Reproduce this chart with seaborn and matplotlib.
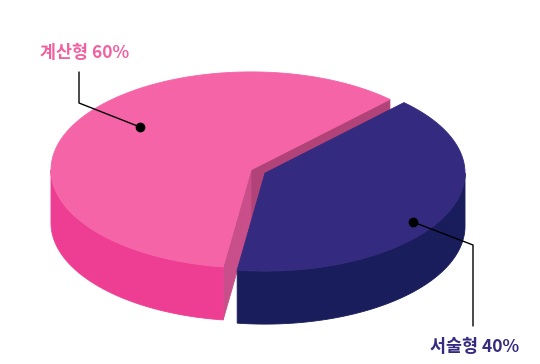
import numpy as np
import matplotlib
matplotlib.use("Agg")
import matplotlib.pyplot as plt
import seaborn as sns
from matplotlib.patches import Polygon

# ---- data ----
categories = ["계산형", "서술형"]
values = [60, 40]
labels = ["계산형 60%", "서술형 40%"]
top_colors = ["#F664A8", "#342A7F"]
side_colors = ["#EE3E93", "#191D5B"]
cut_start_colors = ["#B24378", "#2A2270"]
cut_end_colors = ["#C84F89", "#2A2270"]
label_colors = ["#F1609F", "#342A7F"]

sns.set_theme(style="white")
plt.rcParams['font.family'] = ['Noto Sans CJK KR', 'DejaVu Sans']

W, H = 540, 364
fig = plt.figure(figsize=(W / 100, H / 100), dpi=100)
ax = fig.add_axes([0, 0, 1, 1])
ax.set_xlim(0, W)
ax.set_ylim(H, 0)
ax.axis('off')

cx, cy = 258.0, 171.5   # base centre (px)
rx, ry = 200.0, 98.0    # ellipse radii
depth = 53.0
explode = 7.8
start = 46.0

total = float(sum(values))
spans = [360.0 * v / total for v in values]


def pt(ox, oy, t, z=0.0):
    r = np.deg2rad(t)
    return (ox + rx * np.cos(r), oy - ry * np.sin(r) + z)


def arc(ox, oy, t0, t1, z=0.0, n=120):
    ts = np.linspace(t0, t1, n)
    return [pt(ox, oy, t, z) for t in ts]


def add_poly(pts, color, z):
    ax.add_patch(Polygon(pts, closed=True, facecolor=color, edgecolor=color,
                         linewidth=0.6, zorder=z, antialiased=True))


a = start
for i, (v, sp) in enumerate(zip(values, spans)):
    t0, t1 = a, a + sp
    mid = np.deg2rad((t0 + t1) / 2)
    ox = cx + explode * np.cos(mid)
    oy = cy - explode * np.sin(mid) * 0.47
    base = i * 10
    # cut faces
    for t, col, nrm in ((t0, cut_start_colors[i], t0 - 90), (t1, cut_end_colors[i], t1 + 90)):
        if np.sin(np.deg2rad(nrm)) < 0:
            add_poly([(ox, oy), pt(ox, oy, t), pt(ox, oy, t, depth), (ox, oy + depth)], col, base + 1)
    # front outer wall
    for lo, hi in ((180, 360), (540, 720)):
        s0, s1 = max(t0, lo), min(t1, hi)
        if s1 > s0:
            top = arc(ox, oy, s0, s1)
            bot = arc(ox, oy, s0, s1, depth)[::-1]
            add_poly(top + bot, side_colors[i], base + 2)
    # top face
    add_poly([(ox, oy)] + arc(ox, oy, t0, t1), top_colors[i], base + 3)
    a = t1

# leader lines & labels
ax.plot([140, 79, 79], [127, 103, 72], color="black", lw=1.0, zorder=50)
ax.plot([140], [127], 'o', color="black", ms=6, zorder=51)
ax.text(40, 53, labels[0], color=label_colors[0], fontsize=12.5, fontweight='bold',
        ha='left', va='center', zorder=52)

ax.plot([413, 473, 473], [222, 245, 326], color="black", lw=1.0, zorder=50)
ax.plot([413], [222], 'o', color="black", ms=6, zorder=51)
ax.text(430, 347, labels[1], color=label_colors[1], fontsize=12.5, fontweight='bold',
        ha='left', va='center', zorder=52)

fig.savefig("out.png", dpi=100, facecolor="white")
